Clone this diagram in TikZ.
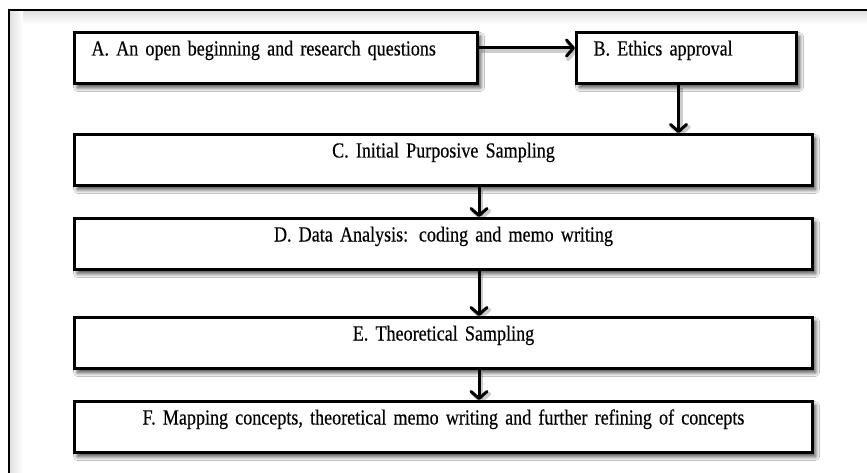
\documentclass[tikz,border=0pt]{standalone}
\usepackage{fontspec}
\setmainfont{Liberation Serif}
\newfontfamily\stepfont[FakeStretch=0.84, WordSpace=0.7, FakeBold=0.3]{Liberation Serif}
\usetikzlibrary{arrows.meta,shadows.blur}

\tikzset{
  stepbox/.style={draw, line width=3pt, fill=white, anchor=north west,
    inner xsep=17pt, inner ysep=0pt, text height=23pt, text depth=28pt,
    font=\stepfont\fontsize{21.5}{24}\selectfont,
    blur shadow={shadow xshift=3pt, shadow yshift=-4pt,
      shadow blur radius=4pt, shadow blur steps=8, shadow opacity=75}},
  wideleft/.style={stepbox, text width=#1, align=left},
  widecenter/.style={stepbox, text width=#1, align=center},
  flow/.style={line width=3pt, -{Straight Barb[length=7pt,width=16pt,round]},
    preaction={draw=black, opacity=0.2, line width=4pt,
      transform canvas={shift={(2pt,-3pt)}}}}
}

\begin{document}
\begin{tikzpicture}[x=1pt,y=-1pt]
\useasboundingbox (0,0) rectangle (867,473);
\fill[white] (0,0) rectangle (867,473);

% inner shading along the frame's top and left edges
\shade[top color=black!13, bottom color=white] (9,10) rectangle (867,24);
\shade[left color=black!13, right color=white] (9,10) rectangle (23,473);
\draw[line width=1.5pt] (9,473) -- (9,10) -- (867,10);

% process steps
\node[wideleft=369pt] (A) at (73,31) {A. An open beginning and research questions};
\node[wideleft=186pt] (B) at (575,31) {B. Ethics approval};
\node[widecenter=704pt] (C) at (73,133) {C. Initial Purposive Sampling};
\node[widecenter=704pt] (D) at (73,217) {D. Data Analysis: coding and memo writing};
\node[widecenter=704pt] (E) at (73,316) {E. Theoretical Sampling};
\node[widecenter=704pt] (F) at (73,400) {F. Mapping concepts, theoretical memo writing and further refining of concepts};

% connectors
\draw[flow] ([yshift=-17pt]A.north east) -- ([yshift=-17pt]B.north west);
\draw[flow] ([xshift=-8pt]B.south) -- ([xshift=-8pt]B.south |- C.north);
\draw[flow] (C.south -| A.east) -- (D.north -| A.east);
\draw[flow] (D.south -| A.east) -- (E.north -| A.east);
\draw[flow] (E.south -| A.east) -- (F.north -| A.east);
\end{tikzpicture}
\end{document}
